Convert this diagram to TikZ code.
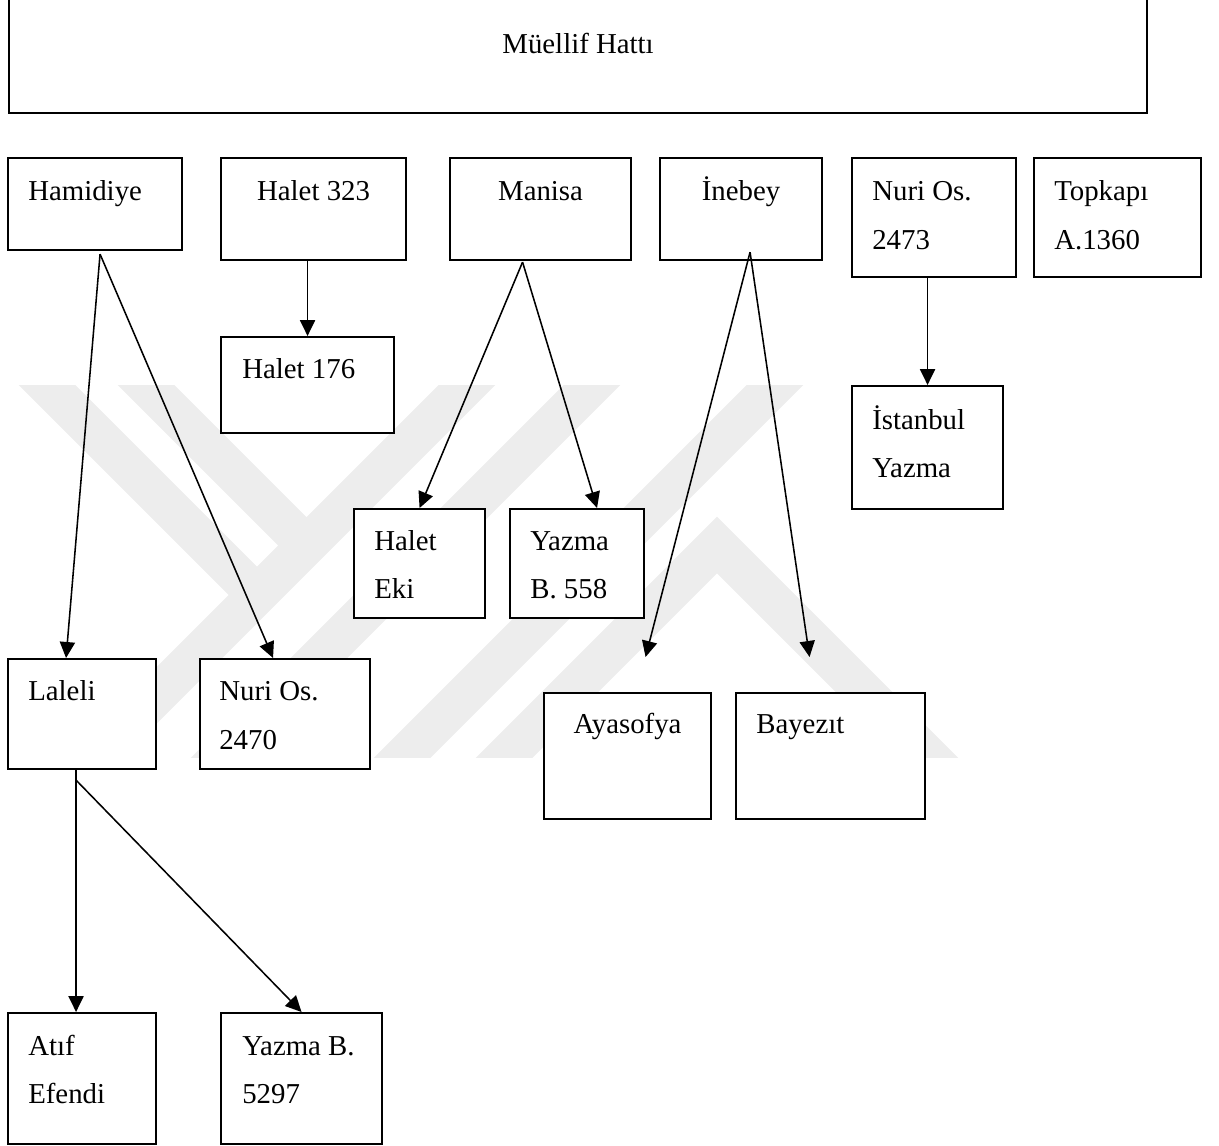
\documentclass[tikz,border=0pt]{standalone}
\usepackage{fontspec}
\setmainfont{Liberation Serif}
\usetikzlibrary{arrows.meta,calc}
\tikzstyle{kutu}=[draw,fill=white,line width=1.5pt,anchor=north west,inner sep=0pt]
\tikzstyle{yazi}=[anchor=base west,inner sep=0pt,font=\fontsize{20.5}{24}\selectfont]
\tikzstyle{ok}=[line width=1.1pt,-{Triangle[length=0.4cm,width=0.38cm]}]
\tikzstyle{filigran}=[line width=1cm,black!7,line join=miter]
\newcommand{\yenikutu}[5]{% Syntax: {name}{x}{y}{width}{height}, all in pixels
	\node[kutu,minimum width=#4*0.025cm,minimum height=#5*0.025cm] (#1) at (#2,#3) {};
}
\newcommand{\solyazi}[4]{% text set from the top left corner of the box
	\node[yazi] (#1-#3) at ($(#1.north west)+(#2,#3)$) {#4};
}
\newcommand{\ortayazi}[3]{% text centred under the top of the box
	\node[yazi,anchor=base] (#1-#2) at ($(#1.north)+(0,#2)$) {#3};
}

\begin{document}
\begin{tikzpicture}[x=0.025cm,y=-0.025cm]
	\useasboundingbox (0,0) rectangle (1219,1146);
	% filigran in the background
	\begin{scope}
		\clip (0,385) rectangle (1219,757);
		\draw[filigran] (17,355) -- (257,595);
		\draw[filigran] (116,355) -- (306,545);
		\draw[filigran] (497,355) -- (65,787);
		\draw[filigran] (622,355) -- (190,787);
		\draw[filigran] (805,355) -- (373,787);
		\draw[filigran] (475,787) -- (717,545) -- (959,787);
	\end{scope}
	% boxes
	\yenikutu{muellif}{8}{-10}{1138}{122}
	\yenikutu{hamidiye}{7}{157}{174}{92}
	\yenikutu{halet323}{220}{157}{185}{102}
	\yenikutu{manisa}{449}{157}{181}{102}
	\yenikutu{inebey}{659}{157}{162}{102}
	\yenikutu{nuri2473}{851}{157}{164}{119}
	\yenikutu{topkapi}{1033}{157}{167}{119}
	\yenikutu{halet176}{220}{336}{173}{96}
	\yenikutu{istanbul}{851}{385}{151}{123}
	\yenikutu{haleteki}{353}{508}{131}{109}
	\yenikutu{yazma558}{509}{508}{134}{109}
	\yenikutu{laleli}{7}{658}{148}{110}
	\yenikutu{nuri2470}{199}{658}{170}{110}
	\yenikutu{ayasofya}{543}{692}{167}{126}
	\yenikutu{bayezit}{735}{692}{189}{126}
	\yenikutu{atif}{7}{1012}{148}{131}
	\yenikutu{yazma5297}{220}{1012}{161}{131}
	% texts
	\ortayazi{muellif}{63}{Müellif Hattı}
	\solyazi{hamidiye}{21}{43}{Hamidiye}
	\ortayazi{halet323}{43}{Halet 323}
	\ortayazi{manisa}{43}{Manisa}
	\ortayazi{inebey}{43}{İnebey}
	\solyazi{nuri2473}{21}{43}{Nuri Os.}
	\solyazi{nuri2473}{21}{92}{2473}
	\solyazi{topkapi}{21}{43}{Topkapı}
	\solyazi{topkapi}{21}{92}{A.1360}
	\solyazi{halet176}{22}{42}{Halet 176}
	\solyazi{istanbul}{21}{44}{İstanbul}
	\solyazi{istanbul}{21}{92}{Yazma}
	\solyazi{haleteki}{21}{42}{Halet}
	\solyazi{haleteki}{21}{90}{Eki}
	\solyazi{yazma558}{21}{42}{Yazma}
	\solyazi{yazma558}{21}{90}{B. 558}
	\solyazi{laleli}{21}{42}{Laleli}
	\solyazi{nuri2470}{20}{42}{Nuri Os.}
	\solyazi{nuri2470}{20}{91}{2470}
	\ortayazi{ayasofya}{41}{Ayasofya}
	\solyazi{bayezit}{21}{41}{Bayezıt}
	\solyazi{atif}{21}{43}{Atıf}
	\solyazi{atif}{21}{91}{Efendi}
	\solyazi{yazma5297}{22}{43}{Yazma B.}
	\solyazi{yazma5297}{22}{91}{5297}
	% connectors
	\coordinate (ayasofyaok) at ($(ayasofya.north)+(18,-35)$);
	\coordinate (bayezitok) at ($(bayezit.north)+(-21,-35)$);
	\draw[ok] ($(hamidiye.south)+(5,3)$) -- ($(laleli.north)+(-16,0)$);
	\draw[ok] ($(hamidiye.south)+(5,3)$) -- ($(nuri2470.north)+(-12,0)$);
	\draw[ok] (halet323.south -| halet176.north) -- (halet176.north);
	\draw[ok] ($(manisa.south)+(-18,1)$) -- (haleteki.north);
	\draw[ok] ($(manisa.south)+(-18,1)$) -- ($(yazma558.north)+(20,0)$);
	\draw[ok] ($(inebey.south)+(9,-9)$) -- (ayasofyaok);
	\draw[ok] ($(inebey.south)+(9,-9)$) -- (bayezitok);
	\draw[ok] (nuri2473.south -| istanbul.north) -- (istanbul.north);
	\draw[ok] ($(laleli.south)+(-6,0)$) -- ($(atif.north)+(-6,0)$);
	\draw[ok] ($(laleli.south)+(-6,10)$) -- (yazma5297.north);
\end{tikzpicture}
\end{document}
